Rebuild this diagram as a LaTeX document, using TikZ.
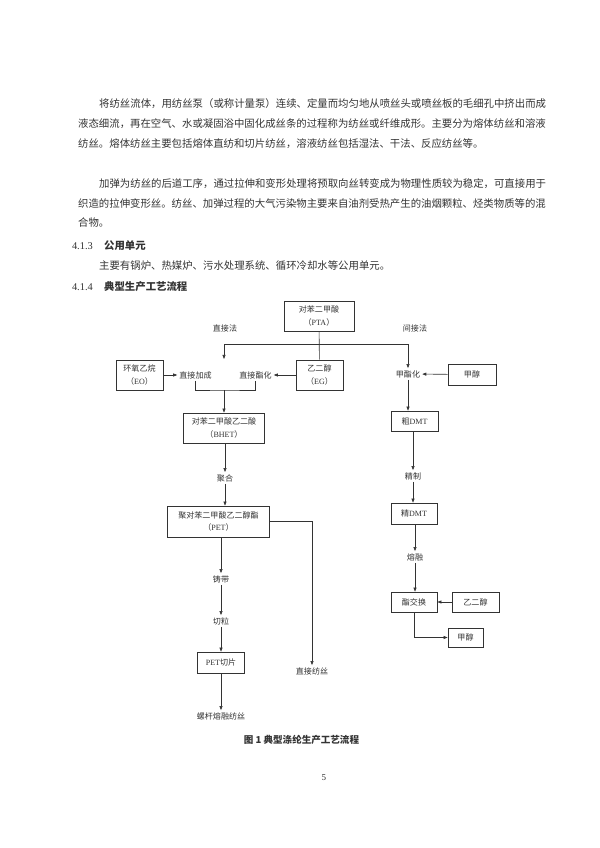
\documentclass[tikz,border=0pt]{standalone}
\usepackage{fontspec}
\setmainfont{Noto Sans CJK SC}
\newfontfamily\tms{Liberation Serif}
\usetikzlibrary{arrows.meta}
\definecolor{ink}{gray}{0.2}

\begin{document}
\begin{tikzpicture}[x=0.035cm, y=-0.035cm,
		box/.style={draw=ink, line width=0.6pt, align=center, inner sep=1pt, text=ink, font=\fontsize{8}{12}\selectfont},
		lbl/.style={inner sep=2pt, text=ink, font=\fontsize{8}{12}\selectfont},
		ln/.style={draw=ink, line width=0.6pt},
		arr/.style={ln, -{Triangle[length=4pt, width=3pt]}},
		body/.style={anchor=west, inner sep=0pt, text=ink, font=\fontsize{10.35}{12}\selectfont}]
		\fill[white] (0,0) rectangle (600,848);
		\useasboundingbox (0,0) rectangle (600,848);
		% page text
		\node[body] (p1a) at (99,104) {将纺丝流体，用纺丝泵（或称计量泵）连续、定量而均匀地从喷丝头或喷丝板的毛细孔中挤出而成};
		\node[body] (p1b) at (78,124) {液态细流，再在空气、水或凝固浴中固化成丝条的过程称为纺丝或纤维成形。主要分为熔体纺丝和溶液};
		\node[body] (p1c) at (78,144) {纺丝。熔体纺丝主要包括熔体直纺和切片纺丝，溶液纺丝包括湿法、干法、反应纺丝等。};
		\node[body] (p2a) at (99,184) {加弹为纺丝的后道工序，通过拉伸和变形处理将预取向丝转变成为物理性质较为稳定，可直接用于};
		\node[body] (p2b) at (78,204) {织造的拉伸变形丝。纺丝、加弹过程的大气污染物主要来自油剂受热产生的油烟颗粒、烃类物质等的混};
		\node[body] (p2c) at (78,223) {合物。};
		\node[body, anchor=east] (n413) at (93,246) {\tms 4.1.3};
		\node[body] (h413) at (104,246) {\bfseries 公用单元};
		\node[body] (p3) at (99,266) {主要有锅炉、热媒炉、污水处理系统、循环冷却水等公用单元。};
		\node[body, anchor=east] (n414) at (93,287) {\tms 4.1.4};
		\node[body] (h414) at (104,287) {\bfseries 典型生产工艺流程};
		% flow chart, left column
		\node[box, minimum width=70, minimum height=30] (pta) at (319,316) {对苯二甲酸\\（{\tms PTA}）};
		\node[lbl] (zjf) at (225,328) {直接法};
		\node[lbl] (jjf) at (415,328) {间接法};
		\node[box, minimum width=47, minimum height=30] (eo) at (139.5,375) {环氧乙烷\\（{\tms EO}）};
		\node[lbl] (zjjc) at (195.5,375) {直接加成};
		\node[lbl] (zjzh) at (255.5,375) {直接酯化};
		\node[box, minimum width=47, minimum height=30] (eg) at (319.5,375) {乙二醇\\（{\tms EG}）};
		\node[box, minimum width=81, minimum height=30] (bhet) at (224,428) {对苯二甲酸乙二酸\\（{\tms BHET}）};
		\node[lbl] (jh) at (225,478) {聚合};
		\node[box, minimum width=101, minimum height=31] (pet) at (218.5,521.5) {聚对苯二甲酸乙二醇酯\\（{\tms PET}）};
		\node[lbl] (zd) at (221,579) {铸带};
		\node[lbl] (ql) at (221,621) {切粒};
		\node[box, minimum width=47, minimum height=21] (petqp) at (221,662.5) {{\tms PET}切片};
		\node[lbl] (lg) at (221,716) {螺杆熔融纺丝};
		\node[lbl] (zjfs) at (312,671) {直接纺丝};
		% right column
		\node[lbl] (jzh) at (408,374) {甲酯化};
		\node[box, minimum width=48, minimum height=21] (jc1) at (472,374.5) {甲醇};
		\node[box, minimum width=47, minimum height=20] (cdmt) at (414.5,421) {粗{\tms DMT}};
		\node[lbl] (jz) at (413,476) {精制};
		\node[box, minimum width=46, minimum height=21] (jdmt) at (414,513.5) {精{\tms DMT}};
		\node[lbl] (rr) at (415,557) {熔融};
		\node[box, minimum width=46, minimum height=20] (zjh) at (414,602) {酯交换};
		\node[box, minimum width=47, minimum height=20] (yec) at (475.5,602) {乙二醇};
		\node[box, minimum width=35, minimum height=19] (jc2) at (465.5,637.5) {甲醇};
		% connectors
		\coordinate (fork) at (319,344);
		\coordinate (zjtop) at (224,359);
		\coordinate (hb) at (224,390);
		\draw[ln] (pta) -- (eg);
		\draw[arr] (fork) -| (zjtop);
		\draw[arr] (fork) -| (jzh);
		\draw[arr] (eo) -- (zjjc);
		\draw[arr] (eg) -- (zjzh);
		\draw[ln] (zjjc) |- (hb) -| (zjzh);
		\draw[arr] (hb) -- (bhet);
		\draw[arr] (bhet.south -| jh) -- (jh);
		\draw[arr] (jh) -- (jh |- pet.north);
		\draw[arr] (pet.south -| zd) -- (zd);
		\draw[arr] (zd) -- (ql);
		\draw[arr] (ql) -- (petqp);
		\draw[arr] (petqp) -- (lg);
		\draw[arr] (pet) -| (zjfs);
		\draw[arr] (jc1) -- (jzh);
		\draw[arr] (jzh) -- (jzh |- cdmt.north);
		\draw[arr] (cdmt.south -| jz) -- (jz);
		\draw[arr] (jz) -- (jz |- jdmt.north);
		\draw[arr] (jdmt.south -| rr) -- (rr);
		\draw[arr] (rr) -- (rr |- zjh.north);
		\draw[arr] (yec) -- (zjh);
		\draw[arr] (zjh) |- (jc2);
		% caption and page number
		\node[inner sep=0pt, text=ink, font=\fontsize{9.5}{12}\selectfont\bfseries] (cap) at (301.5,740) {图 1 典型涤纶生产工艺流程};
		\node[inner sep=0pt, text=ink, font=\fontsize{9}{12}\tms] (pg) at (324,778) {5};
	\end{tikzpicture}
\end{document}
